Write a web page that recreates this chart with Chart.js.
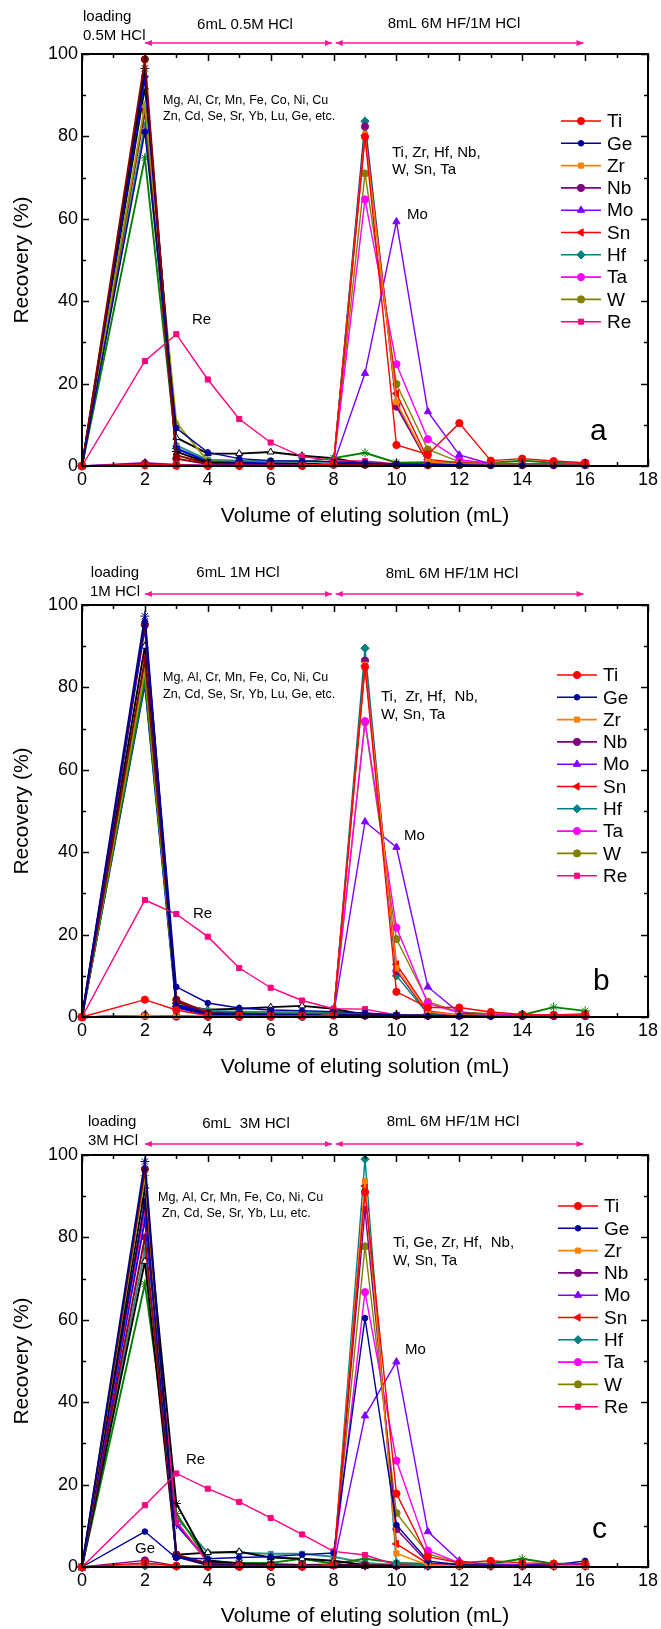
<!DOCTYPE html>
<html>
<head>
<meta charset="utf-8">
<script src="https://cdn.jsdelivr.net/npm/chart.js"></script>
<style>
html,body{margin:0;padding:0;background:#fff;}
body{width:661px;height:1629px;position:relative;overflow:hidden;}
canvas{position:absolute;left:0;}
</style>
</head>
<body>
<canvas id="ca" width="661" height="540" style="top:0px"></canvas>
<canvas id="cb" width="661" height="540" style="top:551px"></canvas>
<canvas id="cc" width="661" height="528" style="top:1101px"></canvas>
<script>
// ---------- shared axis data ----------
const volumes = [0, 2, 3, 4, 5, 6, 7, 8, 9, 10, 11, 12, 13, 14, 15, 16];
const xTickValues = [0, 2, 4, 6, 8, 10, 12, 14, 16, 18];
const yTickValues = [0, 20, 40, 60, 80, 100];
const elementNames = ['Ti', 'Ge', 'Zr', 'Nb', 'Mo', 'Sn', 'Hf', 'Ta', 'W', 'Re'];

// ---------- panel a (0.5M HCl) ----------
const aTi = [0, 0.3, 0.2, 0.1, 0.1, 0.1, 0.1, 0.5, 79.9, 5.1, 2.8, 10.4, 1.3, 1.8, 1.2, 0.8];
const aGe = [0, 81.1, 9.2, 3.3, 1.8, 1.3, 1.2, 1.0, 0.8, 0.5, 0.3, 0.3, 0.2, 0.2, 0.2, 0.2];
const aZr = [0, 0.2, 0.1, 0.1, 0.1, 0.1, 0.1, 0.6, 80.5, 15.5, 1.0, 0.5, 0.4, 0.4, 0.3, 0.3];
const aNb = [0, 0.6, 0.3, 0.1, 0.1, 0.1, 0.1, 0.6, 82.4, 14.4, 0.8, 0.4, 0.3, 0.3, 0.3, 0.3];
const aMo = [0, 0.8, 0.3, 0.2, 0.2, 0.2, 0.2, 0.5, 22.5, 59.3, 13.2, 2.7, 0.5, 0.5, 0.3, 0.3];
const aSn = [0, 0.2, 0.1, 0.1, 0.1, 0.1, 0.1, 0.5, 80.2, 17.6, 1.6, 0.8, 0.5, 0.5, 0.4, 0.4];
const aHf = [0, 0.2, 0.1, 0.1, 0.1, 0.1, 0.1, 0.6, 83.7, 15.0, 0.7, 0.3, 0.3, 0.3, 0.3, 0.3];
const aTa = [0, 0.3, 0.1, 0.1, 0.1, 0.1, 0.1, 0.4, 64.7, 24.7, 6.5, 1.5, 0.6, 0.5, 0.5, 0.8];
const aW  = [0, 0.3, 0.1, 0.1, 0.1, 0.1, 0.1, 0.5, 71.0, 19.9, 4.0, 1.0, 0.8, 0.6, 0.4, 0.3];
const aRe = [0, 25.5, 32.0, 21.0, 11.4, 5.7, 2.3, 1.3, 1.2, 0.5, 0.3, 0.3, 0.3, 0.3, 0.3, 0.3];
// matrix elements (Mg, Al, Cr, ...) panel a
const aMx1 = [0, 98.7, 1.8, 0.5, 0.4, 0.3, 0.3, 0.3, 0.3, 0.2, 0.2, 0.2, 0.2, 0.2, 0.2, 0.2];
const aMx2 = [0, 96.5, 3.5, 0.8, 0.6, 0.5, 0.5, 0.5, 0.4, 0.3, 0.3, 0.3, 0.3, 0.3, 0.3, 0.3];
const aMx3 = [0, 94.2, 4.3, 1.0, 0.8, 0.6, 0.5, 0.5, 0.3, 0.3, 0.3, 0.3, 0.3, 0.3, 0.3, 0.3];
const aMx4 = [0, 87.6, 10.5, 1.2, 0.8, 0.5, 0.5, 0.4, 0.3, 0.3, 0.3, 0.3, 0.3, 0.3, 0.3, 0.3];
const aMx5 = [0, 86.2, 2.6, 0.6, 0.4, 0.4, 0.4, 0.4, 0.3, 0.3, 0.3, 0.3, 0.3, 0.3, 0.3, 0.3];
const aMx6 = [0, 82.7, 5.0, 1.5, 1.3, 1.2, 1.1, 1.0, 0.5, 0.4, 0.3, 0.3, 0.3, 0.3, 0.3, 0.3];
const aMx7 = [0, 74.8, 4.2, 1.3, 1.2, 1.0, 1.0, 1.9, 3.2, 0.8, 0.9, 0.8, 0.8, 1.3, 0.8, 0.5];
const aMx8 = [0, 92.0, 6.9, 3.0, 3.0, 3.4, 2.5, 1.9, 0.5, 0.3, 0.3, 0.3, 0.3, 0.3, 0.3, 0.3];

// ---------- panel b (1M HCl) ----------
const bTi = [0, 4.2, 1.7, 0.3, 0.3, 0.3, 0.3, 0.4, 85.0, 6.1, 2.3, 2.3, 1.2, 0.6, 0.5, 0.5];
const bGe = [0, 96.0, 7.3, 3.4, 2.2, 1.7, 1.5, 1.3, 1.0, 0.5, 0.3, 0.3, 0.2, 0.2, 0.2, 0.2];
const bZr = [0, 0.3, 0.2, 0.1, 0.1, 0.1, 0.1, 0.5, 85.5, 11.8, 1.2, 0.5, 0.4, 0.3, 0.3, 0.3];
const bNb = [0, 0.4, 0.2, 0.1, 0.1, 0.1, 0.1, 0.5, 86.5, 11.2, 1.0, 0.4, 0.3, 0.3, 0.3, 0.3];
const bMo = [0, 0.3, 0.2, 0.1, 0.1, 0.1, 0.1, 0.5, 47.4, 41.2, 7.3, 1.0, 0.5, 0.3, 0.3, 0.3];
const bSn = [0, 0.3, 0.2, 0.1, 0.1, 0.1, 0.1, 0.5, 85.2, 12.8, 1.5, 0.5, 0.4, 0.3, 0.3, 0.3];
const bHf = [0, 0.3, 0.2, 0.1, 0.1, 0.1, 0.1, 0.6, 89.5, 10.0, 0.8, 0.4, 0.3, 0.3, 0.3, 0.3];
const bTa = [0, 0.3, 0.1, 0.1, 0.1, 0.1, 0.1, 0.5, 71.8, 21.7, 3.3, 1.0, 0.6, 0.5, 0.5, 0.5];
const bW  = [0, 0.3, 0.1, 0.1, 0.1, 0.1, 0.1, 0.5, 71.5, 18.9, 3.7, 1.2, 0.8, 0.6, 0.5, 0.8];
const bRe = [0, 28.4, 25.0, 19.5, 11.9, 7.1, 4.0, 2.0, 1.9, 0.5, 0.3, 0.3, 0.3, 0.3, 0.3, 0.3];
const bMx1 = [0, 97.3, 2.6, 0.8, 0.6, 0.5, 0.5, 0.5, 0.4, 0.3, 0.3, 0.3, 0.3, 0.3, 0.3, 0.3];
const bMx2 = [0, 95.3, 4.2, 1.0, 0.6, 0.5, 0.5, 0.5, 0.4, 0.3, 0.3, 0.3, 0.3, 0.3, 0.3, 0.3];
const bMx3 = [0, 94.5, 3.0, 1.0, 0.8, 0.6, 0.5, 0.5, 0.4, 0.3, 0.3, 0.3, 0.3, 0.3, 0.3, 0.3];
const bMx4 = [0, 86.8, 3.8, 0.8, 0.6, 0.5, 0.5, 0.5, 0.4, 0.3, 0.3, 0.3, 0.3, 0.3, 0.3, 0.3];
const bMx5 = [0, 84.0, 3.5, 1.0, 0.7, 0.6, 0.5, 0.5, 0.4, 0.3, 0.3, 0.3, 0.3, 0.3, 0.3, 0.3];
const bMx6 = [0, 81.5, 3.2, 1.2, 1.0, 0.8, 0.8, 0.8, 0.8, 0.5, 0.5, 0.5, 0.5, 0.5, 2.4, 1.5];
const bMx7 = [0, 80.8, 2.3, 0.5, 0.4, 0.4, 0.4, 0.4, 0.3, 0.3, 0.3, 0.3, 0.3, 0.3, 0.3, 0.3];
const bMx8 = [0, 82.0, 3.6, 1.5, 1.3, 1.2, 1.1, 1.0, 0.8, 0.5, 0.4, 0.3, 0.3, 0.3, 0.3, 0.3];
const bMx9 = [0, 90.0, 3.0, 1.8, 2.0, 2.4, 2.7, 2.0, 0.5, 0.3, 0.3, 0.3, 0.3, 0.3, 0.3, 0.3];

// ---------- panel c (3M HCl) ----------
const cTi = [0, 1.0, 0.3, 0.2, 0.2, 0.2, 0.2, 0.5, 91.0, 17.8, 2.5, 1.0, 1.5, 1.0, 0.8, 0.8];
const cGe = [0, 8.6, 2.2, 2.0, 2.3, 2.5, 3.0, 3.4, 60.4, 10.2, 1.5, 0.5, 0.4, 0.4, 0.5, 1.5];
const cZr = [0, 0.5, 0.2, 0.1, 0.1, 0.1, 0.1, 0.5, 93.7, 3.3, 0.5, 0.3, 0.3, 0.3, 0.3, 0.3];
const cNb = [0, 1.6, 0.3, 0.1, 0.1, 0.1, 0.1, 0.5, 86.7, 9.2, 1.0, 0.4, 0.3, 0.3, 0.3, 0.3];
const cMo = [0, 0.5, 0.2, 0.1, 0.1, 0.1, 0.1, 0.5, 36.7, 49.8, 8.6, 1.5, 0.5, 0.5, 0.5, 0.5];
const cSn = [0, 0.5, 0.2, 0.1, 0.1, 0.1, 0.1, 0.5, 92.5, 5.6, 0.8, 0.3, 0.3, 0.3, 0.3, 0.3];
const cHf = [0, 0.3, 0.2, 0.1, 0.1, 0.1, 0.1, 0.5, 99.0, 1.0, 0.5, 0.3, 0.3, 0.3, 0.3, 0.3];
const cTa = [0, 0.5, 0.2, 0.1, 0.1, 0.1, 0.1, 0.5, 66.7, 25.8, 4.0, 1.0, 0.6, 0.5, 0.5, 0.5];
const cW  = [0, 0.5, 0.2, 0.1, 0.1, 0.1, 0.1, 0.5, 77.8, 13.1, 3.2, 1.0, 0.8, 0.6, 0.5, 0.8];
const cRe = [0, 15.0, 22.7, 19.0, 15.8, 11.9, 7.9, 3.8, 2.9, 0.5, 0.3, 0.3, 0.3, 0.3, 0.3, 0.3];
const cMx1 = [0, 98.4, 2.5, 0.5, 0.4, 0.4, 0.4, 0.4, 0.3, 0.3, 0.3, 0.3, 0.3, 0.3, 0.3, 0.3];
const cMx2 = [0, 96.6, 3.0, 0.8, 0.5, 0.5, 0.5, 0.6, 0.4, 0.3, 0.3, 0.3, 0.3, 0.3, 0.3, 0.3];
const cMx3 = [0, 95.0, 3.0, 0.8, 0.5, 0.5, 0.5, 0.5, 0.4, 0.3, 0.3, 0.3, 0.3, 0.3, 0.3, 0.3];
const cMx4 = [0, 88.7, 2.5, 1.0, 0.6, 0.5, 0.5, 0.5, 0.4, 0.3, 0.3, 0.3, 0.3, 0.3, 0.3, 0.3];
const cMx5 = [0, 87.0, 11.0, 1.2, 0.6, 0.5, 0.5, 0.5, 0.4, 0.3, 0.3, 0.3, 0.3, 0.3, 0.3, 0.3];
const cMx6 = [0, 84.3, 10.3, 1.5, 0.8, 0.6, 0.5, 0.5, 0.4, 0.3, 0.3, 0.3, 0.3, 0.3, 0.3, 0.3];
const cMx7 = [0, 80.1, 2.8, 0.5, 0.4, 0.4, 0.4, 0.4, 0.3, 0.3, 0.3, 0.3, 0.3, 0.3, 0.3, 0.3];
const cMx8 = [0, 74.2, 3.0, 3.5, 3.7, 2.3, 2.0, 1.5, 0.5, 0.3, 0.3, 0.3, 0.3, 0.3, 0.3, 0.3];
const cMx9 = [0, 68.7, 13.0, 1.5, 1.0, 1.0, 2.0, 0.8, 2.0, 1.0, 0.8, 0.8, 0.8, 2.0, 0.8, 0.8];
const cMx10 = [0, 92.0, 15.4, 1.5, 0.8, 0.6, 0.5, 0.5, 0.4, 0.3, 0.3, 0.3, 0.3, 0.3, 0.3, 0.3];
const cMx11 = [0, 77.0, 12.0, 3.5, 3.5, 3.2, 3.2, 2.5, 1.0, 0.5, 0.3, 0.3, 0.3, 0.3, 0.3, 0.3];

// ---------- styles ----------
const FONT = '"Liberation Sans", Arial, Helvetica, sans-serif';
const namedStyle = {
  Ti: {color: '#FF0000', pointStyle: 'circle', radius: 3.6},
  Ge: {color: '#000099', pointStyle: 'circle', radius: 2.8},
  Zr: {color: '#FF8000', pointStyle: 'rect', radius: 3.6},
  Nb: {color: '#800080', pointStyle: 'circle', radius: 3.6},
  Mo: {color: '#8000FF', pointStyle: 'triangle', radius: 4.2},
  Sn: {color: '#FF0000', pointStyle: 'triangle', radius: 4.2, rotation: -90},
  Hf: {color: '#008080', pointStyle: 'rectRot', radius: 4.2},
  Ta: {color: '#FF00FF', pointStyle: 'circle', radius: 3.6},
  W:  {color: '#808000', pointStyle: 'circle', radius: 3.6},
  Re: {color: '#FF0080', pointStyle: 'rect', radius: 3.6}
};
const mStyle = {
  darkredCircle: {color: '#8B0000', pointStyle: 'circle', radius: 3.6},
  blackStar: {color: '#000000', pointStyle: 'star', radius: 4.5},
  navyStar: {color: '#000080', pointStyle: 'star', radius: 4.5},
  blueTri: {color: '#0000FF', pointStyle: 'triangle', radius: 4, rotation: 180},
  oliveTri: {color: '#999900', pointStyle: 'triangle', radius: 4},
  oliveStar: {color: '#999900', pointStyle: 'star', radius: 4.5},
  darkredRect: {color: '#990000', pointStyle: 'rect', radius: 3.5},
  darkredTri: {color: '#800000', pointStyle: 'triangle', radius: 4},
  tealRect: {color: '#2E8B8B', pointStyle: 'rect', radius: 3.5},
  greenStar: {color: '#008000', pointStyle: 'star', radius: 4.5},
  blackOpenTri: {color: '#000000', fill: '#FFFFFF', pointStyle: 'triangle', radius: 4},
  blueCircle: {color: '#0000FF', pointStyle: 'circle', radius: 3.4},
  navyCircle: {color: '#000080', pointStyle: 'circle', radius: 3.4},
  pinkTri: {color: '#FF0080', pointStyle: 'triangle', radius: 4, rotation: 180},
  blueStar: {color: '#0000FF', pointStyle: 'star', radius: 4.5}
};

const panels = [
  {
    canvas: 'ca', H: 540, letter: 'a',
    named: {Ti: aTi, Ge: aGe, Zr: aZr, Nb: aNb, Mo: aMo, Sn: aSn, Hf: aHf, Ta: aTa, W: aW, Re: aRe},
    matrix: [[aMx8, 'blackOpenTri'], [aMx7, 'greenStar'], [aMx6, 'tealRect'], [aMx5, 'darkredRect'],
             [aMx4, 'oliveTri'], [aMx3, 'blueTri'], [aMx2, 'blackStar'], [aMx1, 'darkredCircle']],
    notes: [
      {t: 'loading', dx: 1, dy: -37, size: 15, align: 'left'},
      {t: '0.5M HCl', dx: 1, dy: -18, size: 15, align: 'left'},
      {t: '6mL 0.5M HCl', dx: 163, dy: -29, size: 15, align: 'center'},
      {t: '8mL 6M HF/1M HCl', dx: 372, dy: -30, size: 15, align: 'center'},
      {t: 'Mg, Al, Cr, Mn, Fe, Co, Ni, Cu', dx: 81, dy: 47, size: 12.5, align: 'left'},
      {t: 'Zn, Cd, Se, Sr, Yb, Lu, Ge, etc.', dx: 81, dy: 63, size: 12.5, align: 'left'},
      {t: 'Ti, Zr, Hf, Nb,', dx: 310, dy: 99, size: 15, align: 'left'},
      {t: 'W, Sn, Ta', dx: 310, dy: 116, size: 15, align: 'left'},
      {t: 'Mo', dx: 325, dy: 161, size: 15, align: 'left'},
      {t: 'Re', dx: 110, dy: 266, size: 15, align: 'left'},
      {t: 'a', dx: 508, dy: 378, size: 30, align: 'left'}
    ],
    legend: {dx: 479, dy: 67}
  },
  {
    canvas: 'cb', H: 540, letter: 'b',
    named: {Ti: bTi, Ge: bGe, Zr: bZr, Nb: bNb, Mo: bMo, Sn: bSn, Hf: bHf, Ta: bTa, W: bW, Re: bRe},
    matrix: [[bMx9, 'blackOpenTri'], [bMx8, 'tealRect'], [bMx7, 'blueCircle'], [bMx6, 'greenStar'],
             [bMx5, 'oliveTri'], [bMx4, 'darkredTri'], [bMx3, 'blueTri'], [bMx2, 'darkredCircle'], [bMx1, 'navyStar']],
    notes: [
      {t: 'loading', dx: 33, dy: -32, size: 15, align: 'center'},
      {t: '1M HCl', dx: 33, dy: -13, size: 15, align: 'center'},
      {t: '6mL 1M HCl', dx: 156, dy: -32, size: 15, align: 'center'},
      {t: '8mL 6M HF/1M HCl', dx: 370, dy: -31, size: 15, align: 'center'},
      {t: 'Mg, Al, Cr, Mn, Fe, Co, Ni, Cu', dx: 81, dy: 73, size: 12.5, align: 'left'},
      {t: 'Zn, Cd, Se, Sr, Yb, Lu, Ge, etc.', dx: 81, dy: 90, size: 12.5, align: 'left'},
      {t: 'Ti,  Zr, Hf,  Nb,', dx: 299, dy: 92, size: 15, align: 'left'},
      {t: 'W, Sn, Ta', dx: 299, dy: 110, size: 15, align: 'left'},
      {t: 'Mo', dx: 322, dy: 231, size: 15, align: 'left'},
      {t: 'Re', dx: 111, dy: 309, size: 15, align: 'left'},
      {t: 'b', dx: 511, dy: 377, size: 30, align: 'left'}
    ],
    legend: {dx: 475, dy: 70}
  },
  {
    canvas: 'cc', H: 528, letter: 'c',
    named: {Ti: cTi, Ge: cGe, Zr: cZr, Nb: cNb, Mo: cMo, Sn: cSn, Hf: cHf, Ta: cTa, W: cW, Re: cRe},
    matrix: [[cMx11, 'tealRect'], [cMx9, 'greenStar'], [cMx8, 'blackOpenTri'], [cMx7, 'darkredRect'],
             [cMx6, 'blueStar'], [cMx5, 'pinkTri'], [cMx4, 'navyCircle'], [cMx10, 'blackStar'],
             [cMx3, 'oliveStar'], [cMx2, 'darkredCircle'], [cMx1, 'navyStar']],
    notes: [
      {t: 'loading', dx: 6, dy: -33, size: 15, align: 'left'},
      {t: '3M HCl', dx: 6, dy: -14, size: 15, align: 'left'},
      {t: '6mL  3M HCl', dx: 164, dy: -31, size: 15, align: 'center'},
      {t: '8mL 6M HF/1M HCl', dx: 371, dy: -33, size: 15, align: 'center'},
      {t: 'Mg, Al, Cr, Mn, Fe, Co, Ni, Cu', dx: 76, dy: 43, size: 12.5, align: 'left'},
      {t: 'Zn, Cd, Se, Sr, Yb, Lu, etc.', dx: 80, dy: 59, size: 12.5, align: 'left'},
      {t: 'Ti, Ge, Zr, Hf,  Nb,', dx: 311, dy: 88, size: 15, align: 'left'},
      {t: 'W, Sn, Ta', dx: 311, dy: 106, size: 15, align: 'left'},
      {t: 'Mo', dx: 323, dy: 195, size: 15, align: 'left'},
      {t: 'Re', dx: 104, dy: 305, size: 15, align: 'left'},
      {t: 'Ge', dx: 53, dy: 394, size: 15, align: 'left'},
      {t: 'c', dx: 510, dy: 375, size: 30, align: 'left'}
    ],
    legend: {dx: 476, dy: 51}
  }
];

// arrow spans (in mL)
const arrowSpans = [[2, 7.95], [8.07, 15.95]];

function makeDataset(values, st, label, lw) {
  return {
    label: label,
    data: volumes.map((v, i) => ({x: v, y: values[i]})),
    borderColor: st.color,
    backgroundColor: st.fill || st.color,
    pointStyle: st.pointStyle,
    pointRadius: st.radius,
    pointRotation: st.rotation || 0,
    pointBorderColor: st.color,
    pointBackgroundColor: st.fill || st.color,
    pointBorderWidth: 1,
    pointHoverRadius: st.radius,
    borderWidth: lw,
    tension: 0,
    fill: false,
    clip: 6
  };
}

function drawMarker(ctx, st, x, y) {
  ctx.save();
  ctx.fillStyle = st.fill || st.color;
  ctx.strokeStyle = st.color;
  ctx.lineWidth = 1;
  if (Chart.helpers && Chart.helpers.drawPoint) {
    Chart.helpers.drawPoint(ctx, {pointStyle: st.pointStyle, rotation: st.rotation || 0, radius: st.radius, borderWidth: 1}, x, y);
  } else {
    ctx.beginPath(); ctx.arc(x, y, st.radius, 0, Math.PI * 2); ctx.fill(); ctx.stroke();
  }
  ctx.restore();
}

const decor = {
  id: 'decor',
  afterDraw(chart) {
    const p = chart.options.plugins.decor.panel;
    const {ctx, chartArea: ca, scales: {x, y}} = chart;
    ctx.save();
    // inward ticks, all four sides
    ctx.strokeStyle = '#000';
    ctx.lineWidth = 1.5;
    ctx.beginPath();
    for (let v = 0; v <= 18; v++) {
      const px = Math.round(x.getPixelForValue(v)) + 0.5;
      const len = v % 2 === 0 ? 7 : 4;
      ctx.moveTo(px, ca.bottom); ctx.lineTo(px, ca.bottom - len);
      ctx.moveTo(px, ca.top); ctx.lineTo(px, ca.top + len);
    }
    for (let v = 0; v <= 100; v += 10) {
      const py = Math.round(y.getPixelForValue(v)) + 0.5;
      const len = v % 20 === 0 ? 7 : 4;
      ctx.moveTo(ca.left, py); ctx.lineTo(ca.left + len, py);
      ctx.moveTo(ca.right, py); ctx.lineTo(ca.right - len, py);
    }
    ctx.stroke();
    // frame
    ctx.lineWidth = 2;
    ctx.strokeRect(ca.left, ca.top, ca.right - ca.left, ca.bottom - ca.top);

    // pink arrows above the plot
    const ay = ca.top - 11;
    ctx.strokeStyle = '#FF1493';
    ctx.fillStyle = '#FF1493';
    ctx.lineWidth = 1.3;
    arrowSpans.forEach(([s, e]) => {
      const x1 = x.getPixelForValue(s), x2 = x.getPixelForValue(e);
      ctx.beginPath(); ctx.moveTo(x1, ay); ctx.lineTo(x2, ay); ctx.stroke();
      ctx.beginPath(); ctx.moveTo(x1, ay); ctx.lineTo(x1 + 7, ay - 3); ctx.lineTo(x1 + 7, ay + 3); ctx.closePath(); ctx.fill();
      ctx.beginPath(); ctx.moveTo(x2, ay); ctx.lineTo(x2 - 7, ay - 3); ctx.lineTo(x2 - 7, ay + 3); ctx.closePath(); ctx.fill();
    });

    // text notes
    ctx.fillStyle = '#000';
    ctx.textBaseline = 'middle';
    p.notes.forEach(n => {
      ctx.font = n.size + 'px ' + FONT;
      ctx.textAlign = n.align;
      ctx.fillText(n.t, ca.left + n.dx, ca.top + n.dy);
    });

    // legend
    const lx = ca.left + p.legend.dx;
    elementNames.forEach((nm, i) => {
      const st = namedStyle[nm];
      const ly = ca.top + p.legend.dy + i * 22.3;
      ctx.strokeStyle = st.color;
      ctx.lineWidth = 1.6;
      ctx.beginPath(); ctx.moveTo(lx, ly); ctx.lineTo(lx + 40, ly); ctx.stroke();
      drawMarker(ctx, st, lx + 20, ly);
      ctx.fillStyle = '#000';
      ctx.font = '19px ' + FONT;
      ctx.textAlign = 'left';
      ctx.textBaseline = 'middle';
      ctx.fillText(nm, lx + 46, ly + 1);
    });
    ctx.restore();
  }
};

panels.forEach(p => {
  const datasets = [];
  elementNames.forEach(nm => datasets.push(makeDataset(p.named[nm], namedStyle[nm], nm, 1.4)));
  p.matrix.slice().reverse().forEach(([vals, sk], i) => datasets.push(makeDataset(vals, mStyle[sk], 'matrix' + i, 1.9)));
  const H = p.H;
  new Chart(document.getElementById(p.canvas), {
    type: 'line',
    data: {datasets},
    options: {
      responsive: false,
      animation: false,
      devicePixelRatio: 1,
      layout: {padding: {top: 54, right: 11, left: 0, bottom: 0}},
      plugins: {
        legend: {display: false},
        tooltip: {enabled: false},
        decor: {panel: p}
      },
      scales: {
        x: {
          type: 'linear', min: 0, max: 18,
          afterFit: s => { s.height = H - 466; },
          afterBuildTicks: s => { s.ticks = xTickValues.map(v => ({value: v})); },
          ticks: {color: '#000', font: {size: 18, family: FONT}, padding: 3, maxRotation: 0},
          grid: {display: false, drawTicks: false},
          border: {display: false},
          title: {display: true, text: 'Volume of eluting solution (mL)', color: '#000',
                  font: {size: 21, family: FONT}, padding: {top: 0, bottom: Math.max(0, H - 516 - 12.6)}}
        },
        y: {
          type: 'linear', min: 0, max: 100,
          afterFit: s => { s.width = 82; },
          afterBuildTicks: s => { s.ticks = yTickValues.map(v => ({value: v})); },
          ticks: {color: '#000', font: {size: 18, family: FONT}, padding: 4},
          grid: {display: false, drawTicks: false},
          border: {display: false},
          title: {display: true, text: 'Recovery (%)', color: '#000',
                  font: {size: 21, family: FONT}, padding: {top: 10, bottom: 0}}
        }
      }
    },
    plugins: [decor]
  });
});
</script>
</body>
</html>
